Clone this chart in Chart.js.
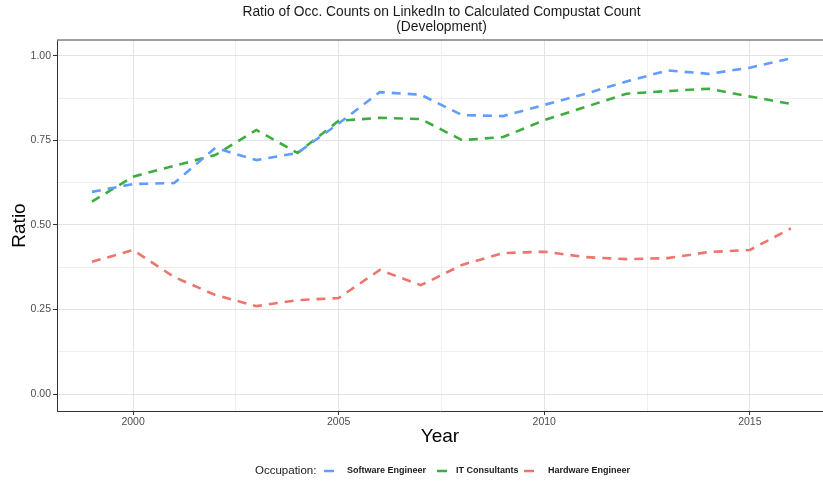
<!DOCTYPE html>
<html>
<head>
<meta charset="utf-8">
<script src="https://cdn.jsdelivr.net/npm/chart.js@4.4.1/dist/chart.umd.min.js"></script>
<style>
  html, body { margin: 0; padding: 0; background: #fff; }
  #chart { display: block; }
</style>
</head>
<body>
<canvas id="chart" width="823" height="482"></canvas>
<script>
// datos
const years = [1999, 2000, 2001, 2002, 2003, 2004, 2005, 2006, 2007, 2008, 2009, 2010, 2011, 2012, 2013, 2014, 2015, 2016];
const softwareEngineer = [0.598, 0.621, 0.624, 0.728, 0.692, 0.713, 0.800, 0.893, 0.885, 0.825, 0.822, 0.855, 0.888, 0.924, 0.957, 0.947, 0.965, 0.993];
const itConsultants = [0.569, 0.643, 0.675, 0.707, 0.781, 0.713, 0.808, 0.817, 0.813, 0.751, 0.760, 0.810, 0.849, 0.888, 0.896, 0.903, 0.880, 0.858];
const hardwareEngineer = [0.391, 0.426, 0.346, 0.293, 0.260, 0.278, 0.284, 0.367, 0.322, 0.382, 0.417, 0.421, 0.405, 0.399, 0.402, 0.420, 0.426, 0.490];
const seriesNames = ['Software Engineer', 'IT Consultants', 'Hardware Engineer'];
const seriesColors = ['#619CFF', '#3DAE3D', '#EC766D'];
const titleLines = ['Ratio of Occ. Counts on LinkedIn to Calculated Compustat Count', '(Development)'];

const FONT = "'Liberation Sans', Arial, Helvetica, sans-serif";

function toPoints(values) {
    return years.map((y, i) => ({ x: y, y: values[i] }));
}

function isMultiple(v, step) {
    const r = v / step;
    return Math.abs(r - Math.round(r)) < 1e-6;
}

// titulo, borde superior y leyenda dibujados a mano (estilo ggplot)
const ggDecor = {
    id: 'ggDecor',
    afterDraw(chart) {
        const ctx = chart.ctx;
        const area = chart.chartArea;
        ctx.save();

        // borde superior del panel
        ctx.strokeStyle = '#7f7f7f';
        ctx.lineWidth = 1.5;
        ctx.beginPath();
        ctx.moveTo(area.left, area.top);
        ctx.lineTo(area.right, area.top);
        ctx.stroke();

        // titulo
        const cx = (area.left + 826) / 2;
        ctx.fillStyle = '#1a1a1a';
        ctx.font = '13.8px ' + FONT;
        ctx.textAlign = 'center';
        ctx.textBaseline = 'middle';
        ctx.fillText(titleLines[0], cx, 12);
        ctx.fillText(titleLines[1], cx, 27);

        // leyenda
        const ly = 471;
        ctx.textAlign = 'left';
        ctx.font = '11.5px ' + FONT;
        ctx.fillText('Occupation:', 255, ly);

        const swatchX = [324, 437, 524];
        const textX = [347, 456, 548];
        ctx.font = 'bold 9px ' + FONT;
        seriesNames.forEach((name, i) => {
            ctx.strokeStyle = seriesColors[i];
            ctx.lineWidth = 2.5;
            ctx.beginPath();
            ctx.moveTo(swatchX[i], ly);
            ctx.lineTo(swatchX[i] + 10, ly);
            ctx.stroke();
            ctx.fillStyle = '#1a1a1a';
            ctx.fillText(name, textX[i], ly);
        });
        ctx.restore();
    }
};

const datasets = [softwareEngineer, itConsultants, hardwareEngineer].map((vals, i) => ({
    label: seriesNames[i],
    data: toPoints(vals),
    borderColor: seriesColors[i],
    backgroundColor: seriesColors[i],
    borderWidth: 2.6,
    borderDash: [9, 7],
    pointRadius: 0,
    tension: 0,
    fill: false
}));

new Chart(document.getElementById('chart'), {
    type: 'line',
    data: { datasets: datasets },
    plugins: [ggDecor],
    options: {
        responsive: false,
        animation: false,
        devicePixelRatio: 1,
        layout: { padding: { top: 40, bottom: 34, left: 0, right: 0 } },
        plugins: {
            legend: { display: false },
            title: { display: false },
            tooltip: { enabled: false }
        },
        scales: {
            x: {
                type: 'linear',
                min: 1998.15,
                max: 2016.78,
                afterFit: (s) => { s.height = 37; },
                ticks: {
                    stepSize: 2.5,
                    includeBounds: false,
                    autoSkip: false,
                    maxRotation: 0,
                    padding: 1,
                    color: '#4d4d4d',
                    font: { family: FONT, size: 10.5 },
                    callback: (v) => isMultiple(v, 5) ? String(v) : ''
                },
                grid: {
                    color: (c) => isMultiple(c.tick.value, 5) ? '#e3e3e3' : '#ebebeb',
                    lineWidth: (c) => isMultiple(c.tick.value, 5) ? 1 : 0.8,
                    tickColor: (c) => isMultiple(c.tick.value, 5) ? '#333333' : 'rgba(0,0,0,0)',
                    tickLength: 4
                },
                border: { display: true, color: '#333333', width: 1 },
                title: {
                    display: true,
                    text: 'Year',
                    color: '#000',
                    font: { family: FONT, size: 19 },
                    padding: { top: 0, bottom: 0 }
                }
            },
            y: {
                min: -0.05,
                max: 1.047,
                afterFit: (s) => { s.width = 57; },
                ticks: {
                    stepSize: 0.125,
                    includeBounds: false,
                    autoSkip: false,
                    padding: 2,
                    color: '#4d4d4d',
                    font: { family: FONT, size: 10.5 },
                    callback: (v) => isMultiple(v, 0.25) ? v.toFixed(2) : ''
                },
                grid: {
                    color: (c) => isMultiple(c.tick.value, 0.25) ? '#e3e3e3' : '#ebebeb',
                    lineWidth: (c) => isMultiple(c.tick.value, 0.25) ? 1 : 0.8,
                    tickColor: (c) => isMultiple(c.tick.value, 0.25) ? '#333333' : 'rgba(0,0,0,0)',
                    tickLength: 4
                },
                border: { display: true, color: '#333333', width: 1 },
                title: {
                    display: true,
                    text: 'Ratio',
                    color: '#000',
                    font: { family: FONT, size: 19 },
                    padding: { top: 8, bottom: 0 }
                }
            }
        }
    }
});
</script>
</body>
</html>
